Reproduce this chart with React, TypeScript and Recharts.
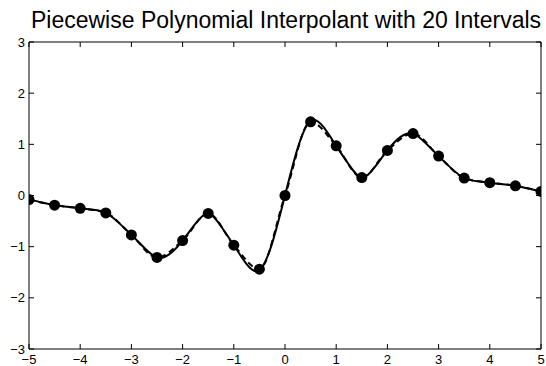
import React from 'react';
import { ComposedChart, Line, XAxis, YAxis } from 'recharts';

const title = 'Piecewise Polynomial Interpolant with 20 Intervals';
const xTicks = [-5, -4, -3, -2, -1, 0, 1, 2, 3, 4, 5];
const yTicks = [-3, -2, -1, 0, 1, 2, 3];

// interpolation nodes (markers)
const nodeX = [-5, -4.5, -4, -3.5, -3, -2.5, -2, -1.5, -1, -0.5, 0, 0.5, 1, 1.5, 2, 2.5, 3, 3.5, 4, 4.5, 5];
const nodeY = [-0.08, -0.19, -0.25, -0.34, -0.77, -1.21, -0.88, -0.35, -0.97, -1.44, 0, 1.44, 0.97, 0.35, 0.88, 1.21, 0.77, 0.34, 0.25, 0.19, 0.08];

// underlying function (solid curve)
const curveX = [-5, -4.75, -4.5, -4.25, -4, -3.75, -3.5, -3.25, -3, -2.75, -2.5, -2.25, -2, -1.75, -1.5, -1.25, -1, -0.75, -0.5, -0.25, 0,
  0.25, 0.5, 0.75, 1, 1.25, 1.5, 1.75, 2, 2.25, 2.5, 2.75, 3, 3.25, 3.5, 3.75, 4, 4.25, 4.5, 4.75, 5];
const curveY = [-0.08, -0.135, -0.19, -0.22, -0.25, -0.28, -0.34, -0.53, -0.77, -1.02, -1.21, -1.14, -0.88, -0.55, -0.35, -0.6, -0.97, -1.34, -1.46, -0.93, 0,
  0.93, 1.46, 1.34, 0.97, 0.6, 0.35, 0.55, 0.88, 1.14, 1.21, 1.02, 0.77, 0.53, 0.34, 0.28, 0.25, 0.22, 0.19, 0.135, 0.08];

const nodes = nodeX.map((x, i) => ({ x, y: nodeY[i] }));
const curve = curveX.map((x, i) => ({ x, y: curveY[i] }));

const fmt = (v: number) => String(v).replace('-', '\u2212');
const font = "'Liberation Sans', Arial, sans-serif";
const tickStyle = { fill: '#000', fontSize: 13, fontFamily: font };
const NoLabel = () => <g />;

export default function App() {
  return (
    <div style={{ position: 'absolute', left: 0, top: 0, width: 546, height: 366, background: '#fff' }}>
      <ComposedChart width={546} height={366} margin={{ top: 42, right: 5, bottom: 16, left: 28 }}>
        <XAxis xAxisId="b" type="number" dataKey="x" domain={[-5, 5]} ticks={xTicks} interval={0}
          height={1} tickLine={false} tickSize={0} tickMargin={6} axisLine={{ stroke: '#000' }}
          tick={tickStyle} tickFormatter={fmt} allowDataOverflow />
        <XAxis xAxisId="bt" type="number" dataKey="x" domain={[-5, 5]} ticks={xTicks} interval={0}
          height={1} mirror tickSize={5} tickLine={{ stroke: '#000' }} tick={NoLabel} axisLine={false} allowDataOverflow />
        <XAxis xAxisId="t" orientation="top" type="number" dataKey="x" domain={[-5, 5]} ticks={xTicks} interval={0}
          height={1} mirror tickSize={5} tickLine={{ stroke: '#000' }} tick={NoLabel} axisLine={{ stroke: '#000' }} allowDataOverflow />
        <YAxis yAxisId="l" type="number" dataKey="y" domain={[-3, 3]} ticks={yTicks} interval={0}
          width={1} tickLine={false} tickSize={0} tickMargin={4} axisLine={{ stroke: '#000' }}
          tick={tickStyle} tickFormatter={fmt} allowDataOverflow />
        <YAxis yAxisId="lt" type="number" dataKey="y" domain={[-3, 3]} ticks={yTicks} interval={0}
          width={1} mirror tickSize={5} tickLine={{ stroke: '#000' }} tick={NoLabel} axisLine={false} allowDataOverflow />
        <YAxis yAxisId="r" orientation="right" type="number" dataKey="y" domain={[-3, 3]} ticks={yTicks} interval={0}
          width={1} mirror tickSize={5} tickLine={{ stroke: '#000' }} tick={NoLabel} axisLine={{ stroke: '#000' }} allowDataOverflow />
        <Line xAxisId="b" yAxisId="l" data={curve} dataKey="y" type="natural" stroke="#000" strokeWidth={2}
          dot={false} activeDot={false} isAnimationActive={false} />
        <Line xAxisId="b" yAxisId="l" data={nodes} dataKey="y" type="monotone" stroke="#000" strokeWidth={2}
          strokeDasharray="6 4" dot={false} activeDot={false} isAnimationActive={false} />
        <Line xAxisId="b" yAxisId="l" data={nodes} dataKey="y" stroke="none" strokeWidth={0}
          dot={{ r: 5.5, fill: '#000', stroke: 'none' }} activeDot={false} isAnimationActive={false} />
      </ComposedChart>
      <svg width={546} height={40} style={{ position: 'absolute', left: 0, top: 0, pointerEvents: 'none' }}>
        <text x={286} y={28} textAnchor="middle" fontSize={23} fontFamily={font} fill="#000">{title}</text>
      </svg>
    </div>
  );
}
